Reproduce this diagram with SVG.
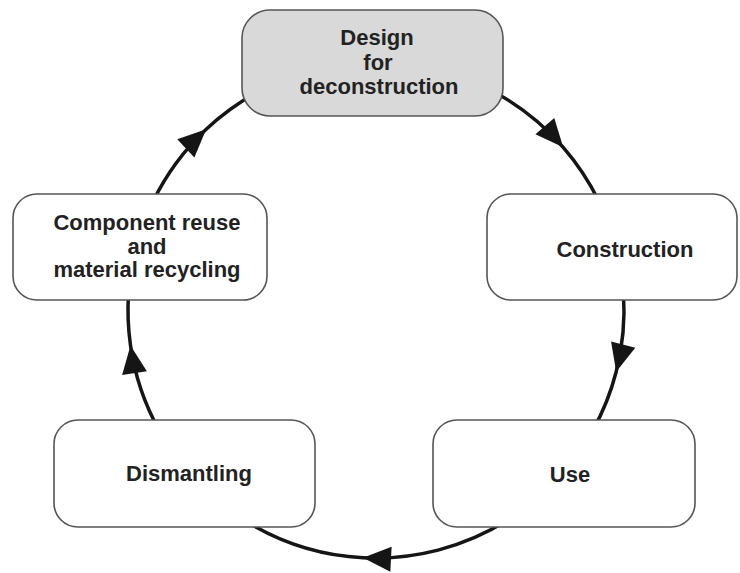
<svg xmlns="http://www.w3.org/2000/svg" width="740" height="573" viewBox="0 0 740 573">
<style>
.box{fill:#ffffff;stroke:#555555;stroke-width:1.6}
.top{fill:#d9d9d9}
.lbl{font-family:"Liberation Sans",Arial,sans-serif;font-weight:bold;font-size:22px;fill:#222222;text-anchor:middle}
.arc{fill:none;stroke:#151515;stroke-width:3.5;marker-mid:url(#ah)}
</style>
<defs>
<marker id="ah" markerUnits="userSpaceOnUse" markerWidth="40" markerHeight="40" refX="0" refY="0" orient="auto" overflow="visible">
<path d="M0,0 L-28,-12.5 L-28,12.5 Z" fill="#151515"/>
</marker>
</defs>
<rect width="740" height="573" fill="#ffffff"/>
<g id="connectors">
<path class="arc" d="M492.4,91 A248,248 0 0 1 563.2,147.3 A248,248 0 0 1 598.9,201.3"/>
<path class="arc" d="M623.4,292.7 A248,248 0 0 1 616.2,371.7 A248,248 0 0 1 592.9,430.2"/>
<path class="arc" d="M507.4,520.3 A248,248 0 0 1 363,557.7 A248,248 0 0 1 244.6,520.3"/>
<path class="arc" d="M159.1,430.2 A248,248 0 0 1 130.5,345.4 A248,248 0 0 1 128.6,292.7"/>
<path class="arc" d="M153.1,201.3 A248,248 0 0 1 206.2,129.2 A248,248 0 0 1 259.6,91"/>
</g>
<g id="design">
<rect class="box top" x="242" y="10" width="261" height="106" rx="28" ry="28"/>
<text class="lbl" x="377" y="45">Design</text>
<text class="lbl" x="378" y="70">for</text>
<text class="lbl" x="379" y="94">deconstruction</text>
</g>
<g id="construction">
<rect class="box" x="487" y="194" width="250" height="106" rx="24" ry="24"/>
<text class="lbl" x="625" y="257">Construction</text>
</g>
<g id="use">
<rect class="box" x="433" y="420" width="262" height="107" rx="24" ry="24"/>
<text class="lbl" x="570" y="482">Use</text>
</g>
<g id="dismantling">
<rect class="box" x="54" y="420" width="261" height="107" rx="24" ry="24"/>
<text class="lbl" x="189" y="481">Dismantling</text>
</g>
<g id="reuse">
<rect class="box" x="13" y="194" width="254" height="106" rx="24" ry="24"/>
<text class="lbl" x="147" y="230">Component reuse</text>
<text class="lbl" x="147" y="254">and</text>
<text class="lbl" x="147" y="277">material recycling</text>
</g>
</svg>
